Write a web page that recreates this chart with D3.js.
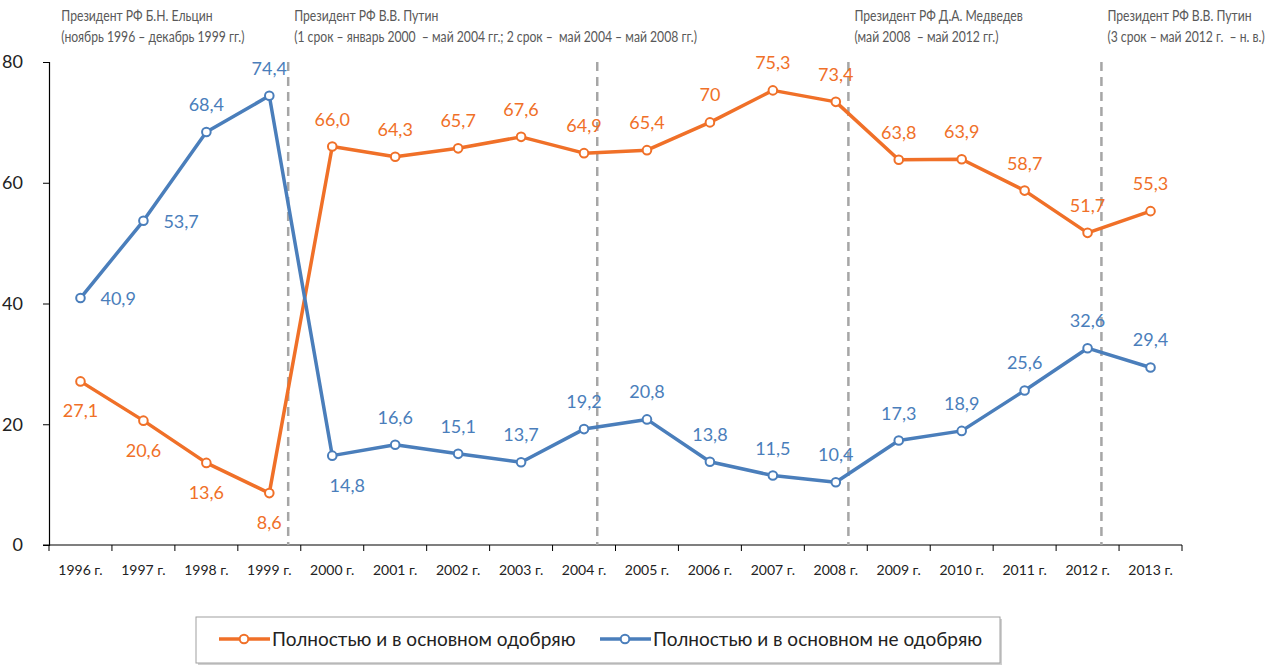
<!DOCTYPE html>
<html>
<head>
<meta charset="utf-8">
<script src="https://cdn.jsdelivr.net/npm/d3@7"></script>
<style>
  body { margin: 0; background: #fff; }
  svg { display: block; }
</style>
</head>
<body>
<div id="chart"></div>
<script>
// ---------------- data ----------------
var years = ["1996", "1997", "1998", "1999", "2000", "2001", "2002", "2003", "2004",
             "2005", "2006", "2007", "2008", "2009", "2010", "2011", "2012", "2013"];
var approve = [27.1, 20.6, 13.6, 8.6, 66.0, 64.3, 65.7, 67.6, 64.9, 65.4, 70, 75.3, 73.4, 63.8, 63.9, 58.7, 51.7, 55.3];
var disapprove = [40.9, 53.7, 68.4, 74.4, 14.8, 16.6, 15.1, 13.7, 19.2, 20.8, 13.8, 11.5, 10.4, 17.3, 18.9, 25.6, 32.6, 29.4];
var approveLabels = ["27,1", "20,6", "13,6", "8,6", "66,0", "64,3", "65,7", "67,6", "64,9", "65,4", "70", "75,3", "73,4", "63,8", "63,9", "58,7", "51,7", "55,3"];
var disapproveLabels = ["40,9", "53,7", "68,4", "74,4", "14,8", "16,6", "15,1", "13,7", "19,2", "20,8", "13,8", "11,5", "10,4", "17,3", "18,9", "25,6", "32,6", "29,4"];
// где стоит подпись: b - снизу, t - сверху, r - справа, br - снизу справа
var approvePos = ["b", "b", "b", "b", "t", "t", "t", "t", "t", "t", "t", "t", "t", "t", "t", "t", "t", "t"];
var disapprovePos = ["r", "r", "t", "t", "br", "t", "t", "t", "t", "t", "t", "t", "t", "t", "t", "t", "t", "t"];
var seriesNames = ["Полностью и в основном одобряю", "Полностью и в основном не одобряю"];
var yTicks = [0, 20, 40, 60, 80];
// смена президента (в годах, дробная часть - доля года)
var eraBreaks = [1999.3, 2004.21, 2008.2, 2012.22];
var eraStarts = [1995.6, 1999.3, 2008.2, 2012.22];
var eraTitles = [
  ["Президент РФ Б.Н. Ельцин", "(ноябрь 1996 – декабрь 1999 гг.)"],
  ["Президент РФ В.В. Путин", "(1 срок – январь 2000  – май 2004 гг.; 2 срок –  май 2004 – май 2008 гг.)"],
  ["Президент РФ Д.А. Медведев", "(май 2008  – май 2012 гг.)"],
  ["Президент РФ В.В. Путин", "(3 срок – май 2012 г.  – н. в.)"]
];

//**********************Canvas**********************
var W = 1283, H = 666;
var margin = { top: 62, right: 101, bottom: 121, left: 49 };
var orange = "#F07028", blue = "#4A7EBB";

var svg = d3.select("#chart").append("svg")
    .attr("width", W)
    .attr("height", H)
    .style("font-family", "Lato, 'Open Sans', sans-serif");

var x = d3.scaleBand().domain(years).range([margin.left, W - margin.right]).padding(0);
var bw = x.bandwidth();
// линейная шкала лет для вертикальных разделителей
var xYear = d3.scaleLinear()
    .domain([+years[0], +years[years.length - 1]])
    .range([x(years[0]) + bw / 2, x(years[years.length - 1]) + bw / 2]);
var y = d3.scaleLinear().domain([0, 80]).range([H - margin.bottom, margin.top]);

//**********************Axes**********************
var yAxis = svg.append("g")
    .attr("transform", "translate(" + margin.left + ",0)")
    .call(d3.axisLeft(y).tickValues(yTicks).tickSize(6).tickPadding(20));
yAxis.select(".domain").attr("stroke", "#000").attr("stroke-width", 1.2);
yAxis.selectAll(".tick line").attr("stroke", "#000");
yAxis.selectAll("text").attr("font-size", 18).attr("fill", "#222")
    .style("font-family", "Lato, sans-serif");

var xAxisG = svg.append("g").attr("transform", "translate(0," + y(0) + ")");
xAxisG.append("line")
    .attr("x1", margin.left - 6).attr("x2", W - margin.right)
    .attr("stroke", "#000").attr("stroke-width", 1.2);
xAxisG.selectAll(".xtick")
    .data(years.concat(["end"]))
    .enter().append("line")
    .attr("x1", (d, i) => i < years.length ? x(d) : x(years[years.length - 1]) + bw)
    .attr("x2", (d, i) => i < years.length ? x(d) : x(years[years.length - 1]) + bw)
    .attr("y1", 0).attr("y2", 6)
    .attr("stroke", "#000");
xAxisG.selectAll(".xlabel")
    .data(years)
    .enter().append("text")
    .attr("x", d => x(d) + bw / 2)
    .attr("y", 30)
    .attr("text-anchor", "middle")
    .attr("font-size", 14)
    .attr("fill", "#222")
    .text(d => d + " г.");

//**********************Era dividers**********************
svg.selectAll(".era")
    .data(eraBreaks)
    .enter().append("line")
    .attr("x1", d => xYear(d)).attr("x2", d => xYear(d))
    .attr("y1", y(80)).attr("y2", y(0))
    .attr("stroke", "#A6A6A6")
    .attr("stroke-width", 2.5)
    .attr("stroke-dasharray", "9,6");

// узкий шрифт имитируем сжатием по горизонтали
var squeeze = 0.84;
var eraText = svg.selectAll(".eraText")
    .data(eraTitles)
    .enter().append("text")
    .attr("transform", "scale(" + squeeze + ",1)")
    .attr("font-size", 14.5)
    .attr("fill", "#595959")
    .style("white-space", "pre");
eraText.each(function (d, i) {
    var t = d3.select(this);
    var x0 = (xYear(eraStarts[i]) + 6) / squeeze;
    d.forEach(function (line, j) {
        t.append("tspan").attr("x", x0).attr("y", 21 + j * 21).text(line);
    });
});

//**********************Lines**********************
var line = d3.line()
    .x((d, i) => x(years[i]) + bw / 2)
    .y(d => y(d));

function drawSeries(values, labels, pos, color) {
    var g = svg.append("g");
    g.append("path")
        .datum(values)
        .attr("d", line)
        .attr("fill", "none")
        .attr("stroke", color)
        .attr("stroke-width", 3.5)
        .attr("stroke-linejoin", "round");
    g.selectAll("circle")
        .data(values)
        .enter().append("circle")
        .attr("cx", (d, i) => x(years[i]) + bw / 2)
        .attr("cy", d => y(d))
        .attr("r", 4.3)
        .attr("fill", "#fff")
        .attr("stroke", color)
        .attr("stroke-width", 2);
    g.selectAll(".lbl")
        .data(values)
        .enter().append("text")
        .attr("x", function (d, i) {
            var cx = x(years[i]) + bw / 2;
            if (pos[i] == "r") return cx + 20;
            if (pos[i] == "br") return cx + 15;
            return cx;
        })
        .attr("y", function (d, i) {
            var cy = y(d);
            if (pos[i] == "b" || pos[i] == "br") return cy + 36;
            if (pos[i] == "r") return cy + 7;
            return cy - 21;
        })
        .attr("text-anchor", (d, i) => pos[i] == "r" ? "start" : "middle")
        .attr("font-size", 18)
        .attr("fill", color)
        .text((d, i) => labels[i]);
}

drawSeries(approve, approveLabels, approvePos, orange);
drawSeries(disapprove, disapproveLabels, disapprovePos, blue);

//**********************Legend**********************
var legend = svg.append("g");
legend.append("rect")
    .attr("x", 198).attr("y", 619)
    .attr("width", 804).attr("height", 46)
    .attr("fill", "#d0d0d0");
legend.append("rect")
    .attr("x", 196).attr("y", 617)
    .attr("width", 804).attr("height", 46)
    .attr("fill", "#fff")
    .attr("stroke", "#a0a0a0")
    .attr("stroke-width", 1);

var legX = [219, 600];
seriesNames.forEach(function (name, i) {
    var c = i == 0 ? orange : blue;
    var lg = legend.append("g").attr("transform", "translate(" + legX[i] + ",639)");
    lg.append("line").attr("x1", 0).attr("x2", 51)
        .attr("stroke", c).attr("stroke-width", 3.5);
    lg.append("circle").attr("cx", 25).attr("r", 4.3)
        .attr("fill", "#fff").attr("stroke", c).attr("stroke-width", 2);
    lg.append("text").attr("x", 53).attr("y", 7)
        .attr("font-size", 19).attr("fill", "#222")
        .text(name);
});
</script>
</body>
</html>
